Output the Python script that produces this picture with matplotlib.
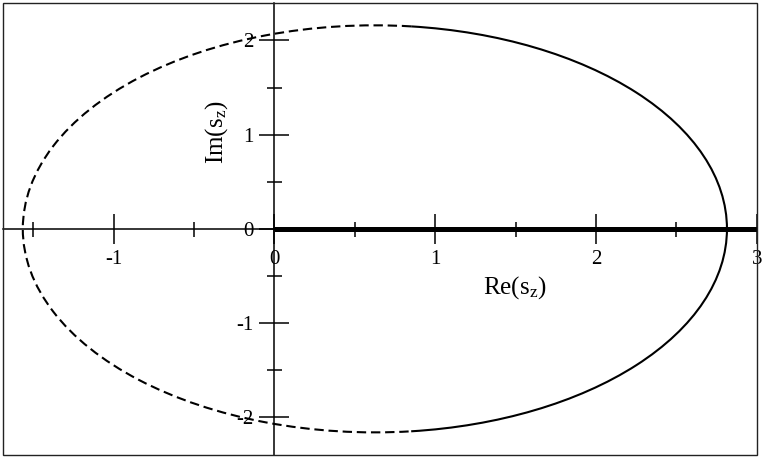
import numpy as np
import matplotlib
matplotlib.use("Agg")
import matplotlib.pyplot as plt
from matplotlib.patches import Arc, Rectangle

# axis ranges and ticks
x_limits = [-1.69, 3.0]
y_limits = [-2.4, 2.4]
x_major = [-1, 0, 1, 2, 3]
x_minor = [-1.5, -0.5, 0.5, 1.5, 2.5]
y_major = [-2, -1, 0, 1, 2]
y_minor = [-1.5, -0.5, 0.5, 1.5]

# ellipse
ell_center = (0.625, 0.0)
ell_semi_re = 2.19
ell_semi_im = 2.16
solid_angles = (-84, 84)
dashed_angles = (84, 276)

# thick segment on the real axis
seg_x = [0, 3]
seg_y = [0, 0]

plt.rcParams['font.family'] = ['Liberation Serif', 'DejaVu Serif']
plt.rcParams['mathtext.fontset'] = 'custom'
plt.rcParams['mathtext.rm'] = 'Liberation Serif'
plt.rcParams['mathtext.default'] = 'regular'
plt.rcParams['axes.unicode_minus'] = False

fig = plt.figure(figsize=(7.63, 4.59), dpi=100)
ax = fig.add_axes([2.7/763, 4.0/459, 754.0/763, 452.3/459])

ax.set_xlim(x_limits)
ax.set_ylim(y_limits)

for side in ['top', 'right']:
    ax.spines[side].set_visible(False)
ax.spines['left'].set_position('zero')
ax.spines['bottom'].set_position('zero')
ax.spines['left'].set_linewidth(1.1)
ax.spines['bottom'].set_linewidth(1.1)

# outer frame
ax.add_patch(Rectangle((0, 0), 1, 1, transform=ax.transAxes, fill=False,
                       edgecolor='#222222', linewidth=1.0, clip_on=False, zorder=5))

ax.set_xticks(x_major)
ax.set_xticks(x_minor, minor=True)
ax.set_yticks(y_major)
ax.set_yticks(y_minor, minor=True)
ax.tick_params(which='major', direction='inout', length=21.6, width=1.1,
               labelsize=15, pad=4.5)
ax.tick_params(which='minor', direction='inout', length=10.8, width=1.1)

ax.plot(seg_x, seg_y, color='black', linewidth=3.6, solid_capstyle='butt', zorder=3)

ax.add_patch(Arc(ell_center, 2*ell_semi_re, 2*ell_semi_im,
                 theta1=solid_angles[0], theta2=solid_angles[1],
                 color='black', linewidth=1.5))
ax.add_patch(Arc(ell_center, 2*ell_semi_re, 2*ell_semi_im,
                 theta1=dashed_angles[0], theta2=dashed_angles[1],
                 color='black', linewidth=1.5, linestyle=(0, (4.5, 2.3))))

ax.set_xlabel('Re(s$_z$)', fontsize=18)
ax.xaxis.set_label_coords(0.679, 0.371)
ax.xaxis.label.set_va('center')
ax.set_ylabel('Im(s$_z$)', fontsize=18)
ax.yaxis.set_label_coords(0.283, 0.714)
ax.yaxis.label.set_va('center')

fig.savefig('out.png', dpi=100)
